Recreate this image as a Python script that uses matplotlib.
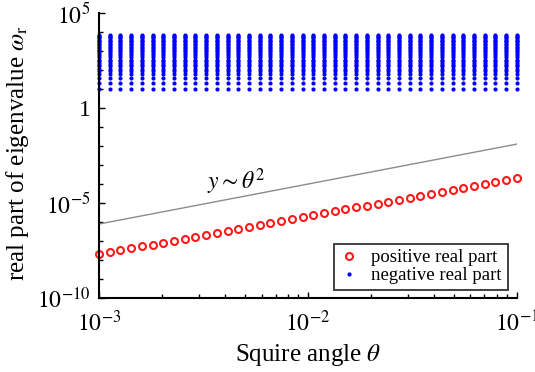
import numpy as np
import matplotlib
matplotlib.use("Agg")
import matplotlib.pyplot as plt
from matplotlib.ticker import NullFormatter

# Squire angle samples (log spaced, 40 points between 1e-3 and 1e-1)
theta = [0.001000, 0.0011253, 0.0012664, 0.0014251, 0.0016037, 0.0018047,
         0.0020309, 0.0022855, 0.0025719, 0.0028943, 0.0032570, 0.0036653,
         0.0041246, 0.0046416, 0.0052233, 0.0058780, 0.0066147, 0.0074438,
         0.0083768, 0.0094267, 0.010608, 0.011938, 0.013434, 0.015118,
         0.017013, 0.019145, 0.021544, 0.024245, 0.027283, 0.030703,
         0.034551, 0.038882, 0.043755, 0.049239, 0.055410, 0.062355,
         0.070170, 0.078965, 0.088862, 0.1]

# positive real part (red open circles)
omega_pos = [2.0e-8, 2.53e-8, 3.21e-8, 4.06e-8, 5.14e-8, 6.51e-8, 8.25e-8,
             1.05e-7, 1.32e-7, 1.68e-7, 2.12e-7, 2.69e-7, 3.40e-7, 4.31e-7,
             5.46e-7, 6.91e-7, 8.75e-7, 1.11e-6, 1.40e-6, 1.78e-6, 2.25e-6,
             2.85e-6, 3.61e-6, 4.57e-6, 5.79e-6, 7.33e-6, 9.29e-6, 1.18e-5,
             1.49e-5, 1.89e-5, 2.39e-5, 3.03e-5, 3.83e-5, 4.85e-5, 6.14e-5,
             7.78e-5, 9.85e-5, 1.25e-4, 1.58e-4, 2.0e-4]

# magnitudes of negative real parts (same at every angle)
omega_neg = [9.6, 21, 40, 61, 86, 117, 154, 195, 240, 290, 345, 470, 610,
             780, 960, 1160, 1400, 1700, 2000, 2400, 2900, 3400, 4000, 4700,
             5400, 6200, 6900]

# reference slope line y ~ theta^2
ref_x = [1e-3, 1e-1]
ref_y = [7.8e-7, 1.26e-2]

plt.rcParams['font.family'] = ['Liberation Serif', 'DejaVu Serif']
plt.rcParams['mathtext.fontset'] = 'stix'

fig = plt.figure(figsize=(5.35, 3.72), dpi=100)
ax = fig.add_axes([0.185, 0.199, 0.781, 0.766])

# blue columns: every angle repeated for every eigenvalue
bx = np.repeat(theta, len(omega_neg))
by = np.tile(omega_neg, len(theta))

ax.plot(ref_x, ref_y, color='#8c8c8c', lw=1.0)
ax.plot(theta, omega_pos, 'o', ls='none', mfc='white', mec='#ff1a1a',
        ms=5, mew=1.5, clip_on=False, label='positive real part')
ax.plot(bx, by, 'o', ls='none', color='#0000ff', ms=3, mew=0,
        clip_on=False, label='negative real part')

ax.set_xscale('log')
ax.set_yscale('log')
ax.set_xlim(1e-3, 1e-1)
ax.set_ylim(1e-10, 1e5)

ax.set_yticks([1e-10, 1e-5, 1, 1e5])
ax.set_yticklabels([r'$10^{-10}$', r'$10^{-5}$', '1', r'$10^{5}$'])
ax.set_yticks([10.0 ** k for k in range(-10, 6)], minor=True)
ax.set_xticks([1e-3, 1e-2, 1e-1])
ax.set_xticklabels([r'$10^{-3}$', r'$10^{-2}$', r'$10^{-1}$'])
ax.xaxis.set_minor_formatter(NullFormatter())
ax.yaxis.set_minor_formatter(NullFormatter())

ax.tick_params(which='both', direction='in', labelsize=17)
ax.tick_params(which='major', length=4, width=1)
ax.tick_params(which='minor', length=3, width=1)
ax.tick_params(axis='x', pad=9)
ax.tick_params(axis='y', pad=6)

for side in ['top', 'right']:
    ax.spines[side].set_visible(False)
for side in ['left', 'bottom']:
    ax.spines[side].set_linewidth(1.5)

ax.text(3.3e-3, 1.3e-4, r'$y \sim \theta^2$', fontsize=17, ha='left', va='center')

ax.set_xlabel(r'Squire angle $\theta$', fontsize=18)
ax.set_ylabel(r'real part of eigenvalue $\omega_\mathrm{r}$', fontsize=18)
ax.xaxis.set_label_coords(0.5, -0.155)
ax.yaxis.set_label_coords(-0.163, 0.507)

leg = ax.legend(loc='lower right', bbox_to_anchor=(0.978, 0.028), fontsize=13.5,
                fancybox=False, edgecolor='#333333', framealpha=1,
                handlelength=1.0, handletextpad=0.7, borderpad=0.3,
                labelspacing=0.05, borderaxespad=0)
leg.get_frame().set_linewidth(1.3)

fig.savefig('out.png', dpi=100)
